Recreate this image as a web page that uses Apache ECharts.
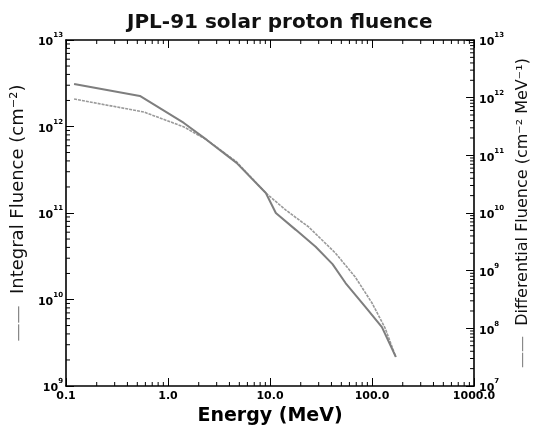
<!DOCTYPE html>
<html>
<head>
<meta charset="utf-8">
<script src="https://cdn.jsdelivr.net/npm/echarts@6/dist/echarts.min.js"></script>
<style>
  html, body { margin: 0; padding: 0; background: #fff; }
  #chart { width: 539px; height: 445px; }
</style>
</head>
<body>
<div id="chart"></div>
<script>
// integral fluence curve (left axis), energy in MeV
var integralEnergy = [0.12, 0.58, 1.43, 2.4, 4.7, 9.1, 14.3, 23.9, 43.7, 68.4, 100, 134, 171];
var integralFluence = [2.08e12, 1.47e12, 9.9e11, 7.0e11, 3.9e11, 1.7e11, 1.08e11, 6.9e10, 3.45e10, 1.82e10, 9.1e9, 4.7e9, 2.16e9];

// differential fluence curve (right axis)
var diffEnergy = [0.12, 0.53, 1.43, 2.4, 4.7, 9.1, 11.4, 17.9, 28, 41, 55, 86, 125, 171];
var diffFluence = [1.73e12, 1.07e12, 3.64e11, 1.85e11, 7.4e10, 2.22e10, 1.0e10, 5.1e9, 2.6e9, 1.3e9, 6.1e8, 2.35e8, 1.05e8, 3.2e7];

var energyTicks = [0.1, 1, 10, 100, 1000];
var energyLabels = ['0.1', '1.0', '10.0', '100.0', '1000.0'];
var integralTicks = [1e9, 1e10, 1e11, 1e12, 1e13];
var diffTicks = [1e7, 1e8, 1e9, 1e10, 1e11, 1e12, 1e13];

// 2..9 inside each decade
function minorTicks(decades) {
  var out = [];
  for (var i = 0; i < decades.length - 1; i++) {
    for (var k = 2; k <= 9; k++) out.push(k * decades[i]);
  }
  return out;
}

function powLabel(v) {
  var e = Math.round(Math.log10(v));
  return '{b|10}{s|' + e + '}';
}

var labelRich = {
  b: { fontSize: 11, fontWeight: 'bold', fontFamily: 'DejaVu Sans', color: '#000', lineHeight: 16, verticalAlign: 'bottom' },
  s: { fontSize: 7, fontWeight: 'bold', fontFamily: 'DejaVu Sans', color: '#000', verticalAlign: 'top' }
};

var lineCol = '#000';

function xAxisDef(pos, withLabels) {
  return {
    type: 'log', logBase: 10, min: 0.1, max: 1000, position: pos,
    axisLine: { show: true, onZero: false, lineStyle: { color: lineCol, width: 1.6 } },
    axisTick: { show: true, inside: true, length: 8, lineStyle: { color: lineCol, width: 1 },
      customValues: energyTicks },
    axisLabel: withLabels ? {
      customValues: energyTicks, margin: 5,
      fontFamily: 'DejaVu Sans', fontWeight: 'bold', fontSize: 11, color: '#000',
      formatter: function (v) { return energyLabels[energyTicks.indexOf(v)] || String(v); }
    } : { show: false },
    splitLine: { show: false },
    name: withLabels ? 'Energy (MeV)' : '',
    nameLocation: 'middle', nameGap: 19,
    nameTextStyle: { fontFamily: 'DejaVu Sans', fontWeight: 'bold', fontSize: 19, color: '#000' }
  };
}

function yAxisDef(pos, min, max, ticks, name, gap, nameSize) {
  return {
    type: 'log', logBase: 10, min: min, max: max, position: pos,
    axisLine: { show: true, onZero: false, lineStyle: { color: lineCol, width: 1.6 } },
    axisTick: { show: true, inside: true, length: 8, lineStyle: { color: lineCol, width: 1 },
      customValues: ticks },
    axisLabel: {
      customValues: ticks, margin: pos === 'left' ? 3 : 5,
      formatter: powLabel, rich: labelRich
    },
    splitLine: { show: false },
    name: name,
    nameLocation: 'middle', nameRotate: 90, nameGap: gap,
    nameTextStyle: {
      fontFamily: 'DejaVu Sans', fontSize: nameSize, color: '#111',
      rich: {
        l: { color: '#888', fontSize: nameSize }
      }
    }
  };
}

var chart = echarts.init(document.getElementById('chart'));
chart.setOption({
  animation: false,
  backgroundColor: '#fff',
  title: {
    text: 'JPL-91 solar proton fluence',
    left: 122, top: 8,
    textStyle: { fontFamily: 'DejaVu Sans', fontWeight: 'bold', fontSize: 20, color: '#111' }
  },
  grid: { left: 66, right: 59, top: 40, bottom: 59 },
  xAxis: [
    xAxisDef('bottom', true),
    xAxisDef('top', false)
  ],
  yAxis: [
    yAxisDef('left', 1e9, 1e13, integralTicks, '{l|——}  Integral Fluence (cm⁻²)', 38, 18),
    yAxisDef('right', 1e7, 1e13, diffTicks, '{l|——}  Differential Fluence (cm⁻² MeV⁻¹)', 32, 16)
  ],
  series: [
    {
      name: 'Integral Fluence',
      type: 'line', xAxisIndex: 0, yAxisIndex: 0,
      showSymbol: false,
      lineStyle: { color: '#9a9a9a', width: 1.6, type: [3, 1] },
      data: integralEnergy.map(function (e, i) { return [e, integralFluence[i]]; })
    },
    {
      name: 'Differential Fluence',
      type: 'line', xAxisIndex: 0, yAxisIndex: 1,
      showSymbol: false,
      lineStyle: { color: '#7e7e7e', width: 2 },
      data: diffEnergy.map(function (e, i) { return [e, diffFluence[i]]; })
    }
  ]
});

// minor log ticks (2..9 per decade), placed through the axes' own scales
var xL = chart.convertToPixel({ xAxisIndex: 0 }, 0.1);
var xR = chart.convertToPixel({ xAxisIndex: 0 }, 1000);
var yB = chart.convertToPixel({ yAxisIndex: 0 }, 1e9);
var yT = chart.convertToPixel({ yAxisIndex: 0 }, 1e13);
var minorLen = 4;
var marks = [];
function tick(x1, y1, x2, y2) {
  marks.push({ type: 'line', silent: true, shape: { x1: x1, y1: y1, x2: x2, y2: y2 },
    style: { stroke: lineCol, lineWidth: 1 } });
}
minorTicks(energyTicks).forEach(function (v) {
  var x = chart.convertToPixel({ xAxisIndex: 0 }, v);
  tick(x, yB, x, yB - minorLen);
  tick(x, yT, x, yT + minorLen);
});
minorTicks(integralTicks).forEach(function (v) {
  var y = chart.convertToPixel({ yAxisIndex: 0 }, v);
  tick(xL, y, xL + minorLen, y);
});
minorTicks(diffTicks).forEach(function (v) {
  var y = chart.convertToPixel({ yAxisIndex: 1 }, v);
  tick(xR, y, xR - minorLen, y);
});
chart.setOption({ graphic: marks });
</script>
</body>
</html>
